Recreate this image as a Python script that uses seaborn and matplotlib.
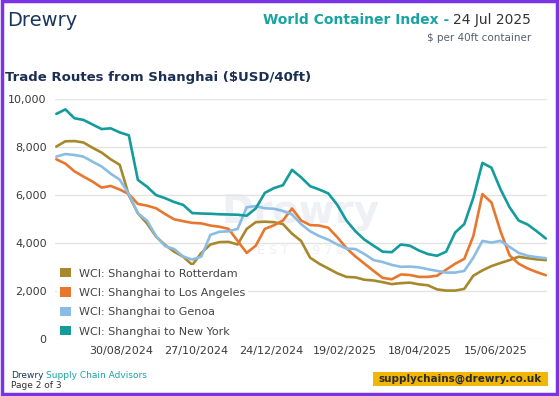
import matplotlib
matplotlib.use("Agg")
import matplotlib.pyplot as plt
import matplotlib.dates as mdates
from matplotlib.patches import Patch, Rectangle
from matplotlib.ticker import FuncFormatter
import seaborn as sns
import pandas as pd

# Weekly WCI readings, 11 Jul 2024 - 24 Jul 2025
dates = pd.date_range("2024-07-11", periods=55, freq="7D")

rotterdam = [8030, 8250, 8260, 8200, 7980, 7780, 7500, 7270, 6000, 5250,
             4830, 4280, 3930, 3650, 3440, 3100, 3600, 3950, 4050, 4060,
             3950, 4600, 4880, 4900, 4880, 4800, 4400, 4100, 3400, 3150,
             2950, 2750, 2600, 2580, 2480, 2450, 2380, 2300, 2340, 2360,
             2290, 2250, 2080, 2030, 2030, 2100, 2650, 2870, 3050, 3180,
             3300, 3440, 3380, 3330, 3300]
los_angeles = [7500, 7320, 7000, 6780, 6570, 6320, 6390, 6240, 6050, 5640,
               5570, 5460, 5220, 5000, 4920, 4850, 4830, 4740, 4690, 4600,
               4100, 3600, 3900, 4600, 4750, 4950, 5450, 4950, 4760, 4740,
               4650, 4250, 3800, 3450, 3150, 2850, 2560, 2500, 2700, 2680,
               2600, 2600, 2650, 2900, 3150, 3350, 4300, 6050, 5700, 4500,
               3500, 3150, 2950, 2800, 2670]
genoa = [7610, 7720, 7680, 7610, 7400, 7200, 6900, 6650, 6050, 5250,
         4950, 4300, 3880, 3760, 3450, 3320, 3450, 4350, 4480, 4500,
         4600, 5500, 5550, 5460, 5440, 5350, 5200, 4800, 4500, 4300,
         4150, 3950, 3780, 3760, 3550, 3300, 3220, 3100, 3020, 3030,
         3000, 2920, 2850, 2780, 2780, 2850, 3400, 4100, 4030, 4100,
         3850, 3600, 3480, 3420, 3380]
new_york = [9390, 9580, 9210, 9140, 8950, 8760, 8790, 8620, 8500, 6640,
            6360, 6010, 5880, 5720, 5600, 5260, 5240, 5230, 5210, 5200,
            5190, 5150, 5450, 6100, 6300, 6420, 7060, 6750, 6380, 6240,
            6080, 5600, 4950, 4500, 4150, 3900, 3650, 3630, 3950, 3900,
            3700, 3550, 3480, 3650, 4450, 4800, 5900, 7350, 7150, 6250,
            5500, 4950, 4780, 4500, 4200]

routes = ["WCI: Shanghai to Rotterdam", "WCI: Shanghai to Los Angeles",
          "WCI: Shanghai to Genoa", "WCI: Shanghai to New York"]
colors = ["#A8882C", "#E8772E", "#8BBDE4", "#149C9C"]
tick_dates = pd.to_datetime(["2024-08-30", "2024-10-27", "2024-12-24",
                             "2025-02-19", "2025-04-18", "2025-06-15"])
y_ticks = [0, 2000, 4000, 6000, 8000, 10000]

df = pd.DataFrame({"date": dates, routes[0]: rotterdam, routes[1]: los_angeles,
                   routes[2]: genoa, routes[3]: new_york})
long = df.melt(id_vars="date", var_name="route", value_name="rate")

sns.set_theme(style="white")
plt.rcParams["font.family"] = ["DejaVu Sans"]

W, H = 560, 396
fig = plt.figure(figsize=(5.6, 3.96), dpi=100)
fig.patch.set_facecolor("white")
ax = fig.add_axes([55 / W, 1 - 339.3 / H, 491.5 / W, 240 / H])

# watermark
ax.text(0.5, 0.53, "Drewry", transform=ax.transAxes, ha="center", va="center",
        fontsize=28, fontweight="bold", color="#EEF0F5", zorder=0)
ax.text(0.5, 0.37, "E S T   1 9 7 0", transform=ax.transAxes, ha="center",
        va="center", fontsize=9, color="#EEF0F5", zorder=0)

sns.lineplot(data=long, x="date", y="rate", hue="route", hue_order=routes,
             palette=colors, linewidth=1.9, legend=False, ax=ax)
for ln in ax.get_lines():
    ln.set_solid_joinstyle("round")
    ln.set_solid_capstyle("round")

ax.set_ylim(0, 10000)
ax.set_yticks(y_ticks)
ax.yaxis.set_major_formatter(FuncFormatter(lambda v, p: f"{int(v):,}"))
ax.set_xlim(dates[0] - pd.Timedelta(days=1), dates[-1] + pd.Timedelta(days=0.5))
ax.set_xticks(tick_dates)
ax.xaxis.set_major_formatter(mdates.DateFormatter("%d/%m/%Y"))
ax.grid(axis="y", color="#E3E3E3", linewidth=1)
ax.set_axisbelow(True)
for s in ax.spines.values():
    s.set_visible(False)
ax.tick_params(axis="both", length=0, labelsize=8, colors="#3A3A3A")
ax.tick_params(axis="y", pad=6)
ax.tick_params(axis="x", pad=5)
ax.set_xlabel("")
ax.set_ylabel("")

handles = [Patch(facecolor=c, edgecolor="none") for c in colors]
leg = ax.legend(handles, routes, loc="lower left", bbox_to_anchor=(0.005, 0.0),
                frameon=True, fontsize=8, handlelength=1.0, handleheight=0.9,
                handletextpad=0.7, labelspacing=0.8, borderpad=0.25,
                borderaxespad=0)
leg.get_frame().set_facecolor("white")
leg.get_frame().set_edgecolor("none")
leg.get_frame().set_alpha(1)
for t in leg.get_texts():
    t.set_color("#444444")

# header
navy = "#1B365D"
teal = "#1AA3A3"
fig.text(7 / W, 1 - 20 / H, "Drewry", fontsize=14, color=navy, va="center")
date_txt = fig.text(531 / W, 1 - 20 / H, "24 Jul 2025", fontsize=10,
                    color="#333333", ha="right", va="center")
fig.canvas.draw()
bb = date_txt.get_window_extent(renderer=fig.canvas.get_renderer())
fig.text((bb.x0 - 4) / W, 1 - 20 / H, "World Container Index -", fontsize=10,
         fontweight="bold", color=teal, ha="right", va="center")
fig.text(531 / W, 1 - 38 / H, "\\$ per 40ft container", fontsize=7.5,
         color="#55606E", ha="right", va="center")
fig.text(5 / W, 1 - 77 / H, "Trade Routes from Shanghai (\\$USD/40ft)",
         fontsize=9.5, fontweight="bold", color="#1B2F55", va="center")

# footer
d_txt = fig.text(11 / W, 1 - 375 / H, "Drewry", fontsize=6.5, color=navy, va="center")
fig.canvas.draw()
bb = d_txt.get_window_extent(renderer=fig.canvas.get_renderer())
fig.text((bb.x1 + 2) / W, 1 - 375 / H, "Supply Chain Advisors", fontsize=6.5,
         color=teal, va="center")
fig.text(11 / W, 1 - 385.5 / H, "Page 2 of 3", fontsize=6.5, color="#333333",
         va="center")
fig.patches.append(Rectangle((372.5 / W, 1 - 386 / H), 175 / W, 13.7 / H,
                             transform=fig.transFigure, facecolor="#F2B705",
                             edgecolor="none"))
fig.text(460 / W, 1 - 379 / H, "supplychains@drewry.co.uk", fontsize=7.5,
         fontweight="bold", color="#2B2B2B", ha="center", va="center")

# purple frame
fig.patches.append(Rectangle((1.5 / W, 2.5 / H), 555 / W, 392.5 / H,
                             transform=fig.transFigure, facecolor="none",
                             edgecolor="#7B33E6", linewidth=2.5))

fig.savefig("out.png", dpi=100)
